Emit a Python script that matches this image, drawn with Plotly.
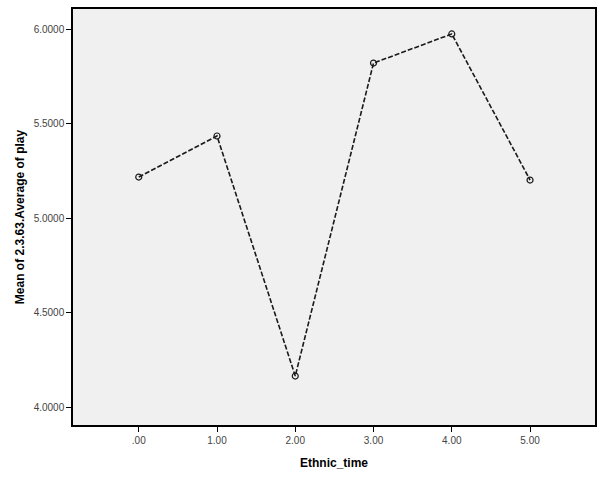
import plotly.graph_objects as go

ethnic_time = [0, 1, 2, 3, 4, 5]
mean_play = [5.217, 5.434, 4.164, 5.820, 5.974, 5.201]
x_tick_vals = [0, 1, 2, 3, 4, 5]
x_tick_text = [".00", "1.00", "2.00", "3.00", "4.00", "5.00"]
y_tick_vals = [4.0, 4.5, 5.0, 5.5, 6.0]
y_tick_text = ["4.0000", "4.5000", "5.0000", "5.5000", "6.0000"]

fig = go.Figure()
fig.add_trace(go.Scatter(
    x=ethnic_time, y=mean_play, mode="lines+markers",
    line=dict(color="#1a1a1a", width=1.6, dash="5px,2px"),
    marker=dict(symbol="circle-open", size=6, color="#1a1a1a", line=dict(width=1.2)),
    showlegend=False, hoverinfo="skip"))

fig.update_layout(
    width=600, height=480,
    margin=dict(l=73, r=5, t=9, b=55),
    paper_bgcolor="white", plot_bgcolor="#f0f0f0",
    font=dict(family="Liberation Sans, Arial, sans-serif", color="#222222"),
    xaxis=dict(range=[-0.84, 5.83], tickvals=x_tick_vals, ticktext=x_tick_text,
               showgrid=False, zeroline=False, showline=True, linecolor="black", linewidth=1.5,
               mirror=True, ticks="outside", ticklen=5, tickcolor="black", automargin=False,
               tickfont=dict(size=10, color="#444444"),
               title=dict(text="<b>Ethnic_time</b>", font=dict(size=12, color="black"), standoff=14)),
    yaxis=dict(range=[3.905, 6.106], tickvals=y_tick_vals, ticktext=y_tick_text,
               showgrid=False, zeroline=False, showline=True, linecolor="black", linewidth=1.5,
               mirror=True, ticks="outside", ticklen=5, tickcolor="black", automargin=False,
               tickfont=dict(size=10, color="#444444"),
               title=dict(text="<b>Mean of 2.3.63.Average of play</b>", font=dict(size=12, color="black"), standoff=6)),
)

fig.write_html("out.html", config={"displayModeBar": False},
               post_script="document.body.style.margin='0';document.body.style.overflow='hidden';")
